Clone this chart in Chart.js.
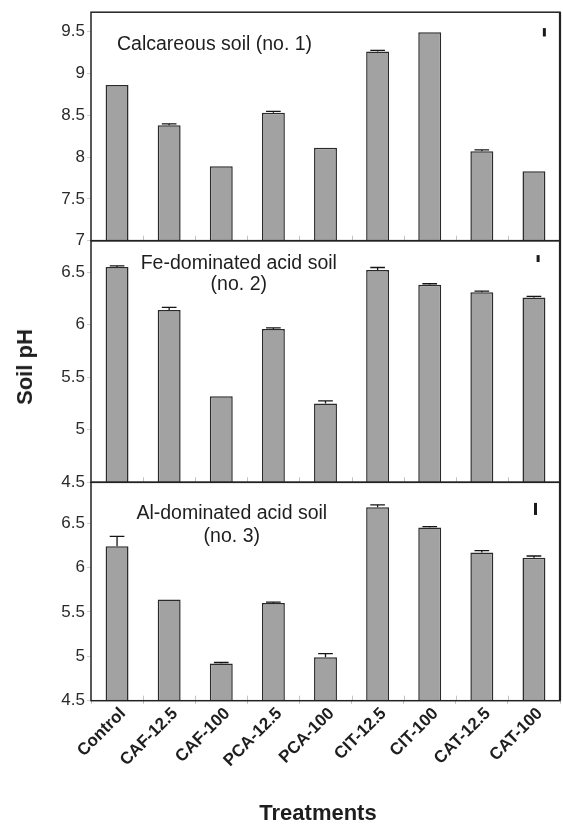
<!DOCTYPE html>
<html lang="en">
<head>
<meta charset="UTF-8">
<title>Soil pH by treatment</title>
<script src="https://cdn.jsdelivr.net/npm/chart.js"></script>
<style>
  body { margin: 0; background: #fff; }
  #wrap { position: relative; width: 563px; height: 827px; font-family: 'Liberation Sans', Arial, sans-serif; color: #1e1e1e; }
  #wrap canvas { position: absolute; left: 0; top: 0; }
  .title { position: absolute; font-weight: bold; font-size: 22px; white-space: nowrap; }
  #ytitle { left: 25px; top: 367px; transform: translate(-50%, -50%) rotate(-90deg); }
  #xtitle { left: 318px; top: 813px; transform: translate(-50%, -50%); }
</style>
</head>
<body>
<div id="wrap">
  <canvas id="c1" width="563" height="827"></canvas>
  <canvas id="c2" width="563" height="827"></canvas>
  <canvas id="c3" width="563" height="827"></canvas>
  <div class="title" id="ytitle">Soil pH</div>
  <div class="title" id="xtitle">Treatments</div>
</div>

<script>
// data
const treatments = ['Control', 'CAF-12.5', 'CAF-100', 'PCA-12.5', 'PCA-100', 'CIT-12.5', 'CIT-100', 'CAT-12.5', 'CAT-100'];

const calcareousPH  = [8.86, 8.38, 7.89, 8.53, 8.11, 9.26, 9.49, 8.07, 7.83];
const calcareousErr = [0, 0.015, 0, 0.015, 0, 0.015, 0, 0.015, 0];

const feAcidPH  = [6.55, 6.14, 5.32, 5.96, 5.25, 6.52, 6.38, 6.31, 6.26];
const feAcidErr = [0.01, 0.025, 0, 0.01, 0.025, 0.025, 0.01, 0.01, 0.01];

const alAcidPH  = [6.24, 5.64, 4.92, 5.60, 4.99, 6.68, 6.45, 6.17, 6.11];
const alAcidErr = [0.11, 0, 0.01, 0.01, 0.04, 0.025, 0.01, 0.02, 0.02];

// LSD marker in the top right of each panel (centre, half length, category position)
const lsdCenter   = [9.49, 6.63, 6.66];
const lsdHalf     = [0.05, 0.033, 0.068];
const lsdCategory = [8.2, 8.08, 8.03];

const yMin = [7, 4.5, 4.5];
const yMax = [9.73, 6.8, 6.96];

const panelLabels = [
    ['Calcareous soil (no. 1)'],
    ['Fe-dominated acid soil', '(no. 2)'],
    ['Al-dominated acid soil', '(no. 3)']
];

// layout of the three stacked panels (pixels)
const panelTop    = [9.5, 240.7, 482.3];
const panelBottom = [240.7, 482.3, 700.7];
const labelStyle = [
    { align: 'left',   dx: 26,    dy: [32] },
    { align: 'center', dx: 147.8, dy: [23.3, 44.3] },
    { align: 'center', dx: 140.8, dy: [31.7, 54.7] }
];

const values = [calcareousPH, feAcidPH, alAcidPH];
const errors = [calcareousErr, feAcidErr, alAcidErr];

const FONT = "'Liberation Sans', Arial, sans-serif";
const xAxisHeight = 80;

function decorations(p) {
    return {
        id: 'decor' + p,
        afterDatasetsDraw(chart) {
            const { ctx, chartArea: a, scales: { x, y } } = chart;
            const meta = chart.getDatasetMeta(0);
            ctx.save();

            // error bars, upper half only
            ctx.strokeStyle = '#151515';
            ctx.lineWidth = 1.3;
            errors[p].forEach((e, i) => {
                if (!e) return;
                const bar = meta.data[i];
                const top = y.getPixelForValue(values[p][i] + e);
                const half = bar.width * 0.32;
                ctx.beginPath();
                ctx.moveTo(bar.x, bar.y);
                ctx.lineTo(bar.x, top);
                ctx.moveTo(bar.x - half, top);
                ctx.lineTo(bar.x + half, top);
                ctx.stroke();
            });

            // LSD marker
            const lx = x.getPixelForValue(lsdCategory[p]);
            ctx.lineWidth = 3;
            ctx.strokeStyle = '#1a1a1a';
            ctx.beginPath();
            ctx.moveTo(lx, y.getPixelForValue(lsdCenter[p] - lsdHalf[p]));
            ctx.lineTo(lx, y.getPixelForValue(lsdCenter[p] + lsdHalf[p]));
            ctx.stroke();

            // faint category ticks inside the bottom edge
            ctx.lineWidth = 1;
            ctx.strokeStyle = '#c4c4c4';
            for (let i = 1; i < treatments.length; i++) {
                const tx = Math.round(x.getPixelForValue(i - 0.5)) + 0.5;
                ctx.beginPath();
                ctx.moveTo(tx, a.bottom - 5);
                ctx.lineTo(tx, a.bottom);
                ctx.stroke();
            }

            // panel caption
            const st = labelStyle[p];
            ctx.fillStyle = '#1e1e1e';
            ctx.font = '19.5px ' + FONT;
            ctx.textAlign = st.align;
            ctx.textBaseline = 'middle';
            panelLabels[p].forEach((line, k) => {
                ctx.fillText(line, a.left + st.dx, a.top + st.dy[k]);
            });

            // frame
            ctx.strokeStyle = '#222';
            ctx.lineWidth = 1.5;
            ctx.strokeRect(a.left, a.top, a.right - a.left, a.bottom - a.top);
            ctx.lineWidth = 2.2;
            ctx.beginPath();
            ctx.moveTo(a.right, a.top);
            ctx.lineTo(a.right, a.bottom);
            ctx.stroke();
            ctx.restore();
        }
    };
}

function makePanel(p) {
    const last = p === 2;
    const bottomPad = last ? 827 - panelBottom[p] - xAxisHeight : 827 - panelBottom[p];
    return new Chart(document.getElementById('c' + (p + 1)), {
        type: 'bar',
        data: {
            labels: treatments,
            datasets: [{
                data: values[p],
                backgroundColor: '#a2a2a2',
                borderColor: '#2a2a2a',
                borderWidth: 1.5,
                categoryPercentage: 1,
                barPercentage: 0.44
            }]
        },
        options: {
            responsive: false,
            animation: false,
            devicePixelRatio: 1,
            layout: { padding: { top: panelTop[p], bottom: bottomPad, left: 0, right: 3 } },
            plugins: { legend: { display: false }, tooltip: { enabled: false } },
            scales: {
                x: {
                    display: last,
                    offset: true,
                    grid: { display: true, drawOnChartArea: false, tickLength: 3, color: '#bbb' },
                    border: { display: false },
                    ticks: {
                        autoSkip: false,
                        minRotation: 45,
                        maxRotation: 45,
                        padding: 0,
                        labelOffset: 6,
                        color: '#1e1e1e',
                        font: { family: FONT, size: 17, weight: 'bold' }
                    },
                    afterFit(s) { s.height = last ? xAxisHeight : 0; }
                },
                y: {
                    min: yMin[p],
                    max: yMax[p],
                    grid: { drawOnChartArea: false, tickLength: 4, color: '#cfcfcf' },
                    border: { display: false },
                    ticks: {
                        stepSize: 0.5,
                        includeBounds: false,
                        padding: 2,
                        color: '#2a2a2a',
                        font: { family: FONT, size: 17 },
                        callback: v => String(+v.toFixed(2))
                    },
                    afterFit(s) { s.width = 91; }
                }
            }
        },
        plugins: [decorations(p)]
    });
}

[0, 1, 2].forEach(makePanel);
</script>
</body>
</html>
